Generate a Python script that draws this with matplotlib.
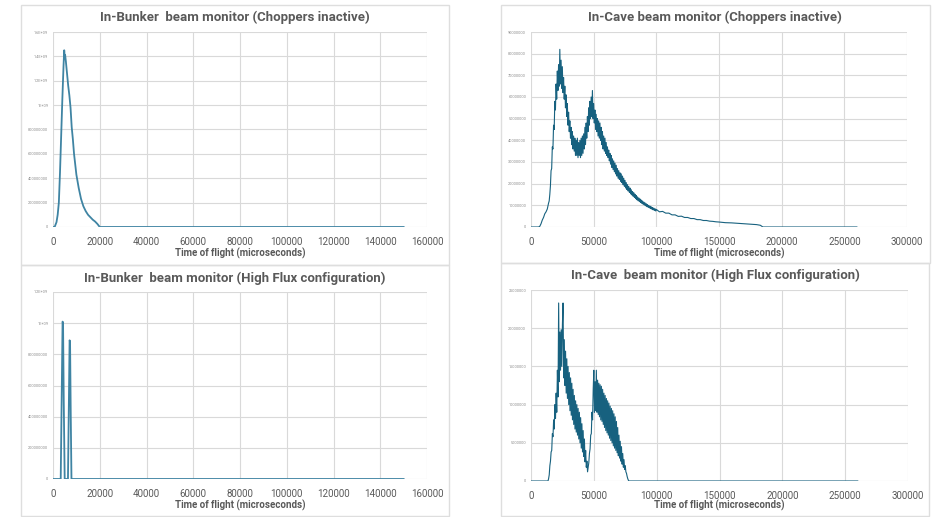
import matplotlib
matplotlib.use("Agg")
import matplotlib.pyplot as plt
from matplotlib.patches import Rectangle

# ---------------- data ----------------
# In-Bunker, choppers inactive (x in microseconds, counts in units of 1e8)
bunker_open_x = [0, 700, 1500, 2000, 2500, 3000, 3500, 4000, 4500, 4800, 5000, 5200,
                 5500, 6000, 6500, 7000, 7500, 8000, 8500, 9000, 10000, 11000, 12000,
                 13000, 14000, 15000, 16000, 17000, 18000, 19000, 20000, 150000]
bunker_open_y = [0, 0, 0.4, 1.0, 2.0, 4.5, 7.5, 10.5, 13.2, 14.5, 14.0, 14.1,
                 13.6, 12.6, 11.6, 10.8, 9.8, 8.2, 7.2, 6.0, 4.3, 3.2, 2.3,
                 1.7, 1.3, 1.0, 0.8, 0.6, 0.45, 0.25, 0, 0]

# In-Bunker, high flux configuration (counts in units of 1e8)
bunker_hf_x = [0, 3300, 3700, 4100, 4300, 4600, 5000, 6400, 6800, 7100, 7300, 7600, 7900, 150000]
bunker_hf_y = [0, 0, 5.0, 10.1, 10.0, 5.0, 0, 0, 5.0, 8.9, 8.8, 4.0, 0, 0]

# In-Cave, choppers inactive (x in thousands of microseconds, counts in millions)
cave_open_head_x = [0, 1, 2, 3, 4, 5, 6, 7, 8, 9, 10, 11, 12, 13]
cave_open_head_y = [0, 0, 0, 0, 0, 0, 0, 0.3, 1.5, 3.2, 4.4, 6.1, 7.0, 8.3]
# 14.0 .. 100.0 in steps of 0.5
cave_open_mid_y = [
    11, 12, 15, 19, 26, 27, 37, 36, 47, 45,
    58, 54, 66, 59, 72, 63, 75, 65, 82, 66,
    77, 64, 74, 62, 69, 59, 65, 55, 61, 51,
    57, 47, 53, 44, 49, 41, 46, 38, 44, 36,
    42, 35, 41, 33, 40, 33, 41, 32, 39, 33,
    40, 32, 41, 33, 42, 34, 43, 36, 46, 38,
    48, 41, 51, 44, 55, 47, 58, 50, 60, 51,
    63, 50, 57, 48, 54, 45, 52, 44, 50, 42,
    49, 41, 48, 40, 46, 38, 44, 36, 42, 35,
    41, 34, 39, 33, 37, 32, 35.5, 30.5, 34, 29,
    33, 27.5, 31.5, 26.5, 30.5, 25.5, 29.5, 24.5, 28.5, 23.5,
    27, 22.5, 26, 22, 25, 21, 24.5, 20.5, 23.5, 19.5,
    22.5, 18.8, 21.5, 18, 20.5, 17.3, 19.5, 16.6, 18.7, 16,
    18, 15.3, 17.2, 14.8, 16.4, 14.2, 15.8, 13.7, 15.1, 13.1,
    14.5, 12.6, 13.9, 12.1, 13.4, 11.7, 12.9, 11.3, 12.4, 10.9,
    12, 10.5, 11.5, 10.1, 11.1, 9.8, 10.7, 9.4, 10.3, 9.1,
    9.9, 8.8, 9.6, 8.5, 9.3, 8.2, 9.0, 7.9, 8.7, 7.7,
    8.4, 7.4, 8.1]
cave_open_tail_x = [102.5, 105, 107.5, 110, 112.5, 115, 117.5, 120, 122.5, 125, 127.5,
                    130, 132.5, 135, 137.5, 140, 142.5, 145, 147.5, 150, 155, 160, 165,
                    170, 175, 180, 183, 185, 260]
cave_open_tail_y = [7.0, 7.2, 6.4, 6.4, 5.6, 5.6, 4.9, 5.0, 4.4, 4.4, 3.9,
                    3.9, 3.4, 3.4, 3.0, 3.0, 2.7, 2.6, 2.4, 2.3, 2.0, 1.9, 1.7,
                    1.5, 1.3, 1.1, 0.8, 0, 0]

# In-Cave, high flux configuration (x in thousands of microseconds, counts in millions)
cave_hf_head_x = [0, 13.5]
cave_hf_head_y = [0, 0]
# 14.0 .. 78.0 in steps of 0.5
cave_hf_mid_y = [
    0.3, 0.8, 2.0, 2.6, 3.8, 4.0, 6.2, 5.8, 8.0, 6.8,
    10.0, 8.2, 11.5, 9.0, 14.5, 11.0, 23.3, 13.0, 19.5, 14.5,
    19.8, 15.0, 20.5, 23.3, 13.5, 18.5, 12.5, 17.0, 11.5, 16.0,
    10.8, 15.0, 10.0, 14.2, 9.2, 13.5, 8.6, 12.8, 8.0, 12.0,
    7.4, 11.2, 6.8, 10.5, 6.4, 10.0, 6.0, 9.5, 5.5, 9.0,
    5.0, 8.3, 4.3, 7.5, 3.8, 6.6, 3.2, 5.5, 2.5, 4.0,
    1.8, 2.6, 1.2, 1.8, 2.4, 3.6, 4.2, 6.0, 6.2, 9.0,
    8.0, 12.0, 14.5, 9.0, 13.0, 9.2, 14.5, 9.0, 13.2, 8.7,
    12.8, 8.4, 12.6, 8.0, 12.4, 7.8, 12.0, 7.4, 11.5, 7.0,
    11.2, 6.6, 10.8, 6.3, 10.5, 6.0, 10.2, 5.6, 9.8, 5.3,
    9.5, 5.0, 9.2, 4.6, 8.8, 4.3, 8.4, 4.0, 7.8, 3.7,
    7.0, 3.3, 6.0, 3.0, 5.2, 2.6, 4.5, 2.2, 3.6, 1.8,
    2.8, 1.5, 2.0, 1.2, 1.0, 0.6, 0.3, 0.1, 0]
cave_hf_tail_x = [260]
cave_hf_tail_y = [0]

# axis ticks / labels
bunker_xticks = [0, 20000, 40000, 60000, 80000, 100000, 120000, 140000, 160000]
cave_xticks = [0, 50000, 100000, 150000, 200000, 250000, 300000]
bunker_open_yticks = [0, 2e8, 4e8, 6e8, 8e8, 1e9, 1.2e9, 1.4e9, 1.6e9]
bunker_open_ylabels = ["0", "200000000", "400000000", "600000000", "800000000",
                       "1E+09", "1.2E+09", "1.4E+09", "1.6E+09"]
bunker_hf_yticks = [0, 2e8, 4e8, 6e8, 8e8, 1e9, 1.2e9]
bunker_hf_ylabels = ["0", "200000000", "400000000", "600000000", "800000000",
                     "1E+09", "1.2E+09"]
cave_open_yticks = [0, 1e7, 2e7, 3e7, 4e7, 5e7, 6e7, 7e7, 8e7, 9e7]
cave_open_ylabels = ["0", "10000000", "20000000", "30000000", "40000000", "50000000",
                     "60000000", "70000000", "80000000", "90000000"]
cave_hf_yticks = [0, 5e6, 1e7, 1.5e7, 2e7, 2.5e7]
cave_hf_ylabels = ["0", "5000000", "10000000", "15000000", "20000000", "25000000"]

titles = ["In-Bunker  beam monitor (Choppers inactive)",
          "In-Cave beam monitor (Choppers inactive)",
          "In-Bunker  beam monitor (High Flux configuration)",
          "In-Cave  beam monitor (High Flux configuration)"]
xlabel = "Time of flight (microseconds)"

# ---------------- assemble series ----------------
def half_steps(start, n):
    return [start + 0.5 * i for i in range(n)]

cave_open_x = cave_open_head_x + half_steps(14.0, len(cave_open_mid_y)) + cave_open_tail_x
cave_open_y = cave_open_head_y + cave_open_mid_y + cave_open_tail_y
cave_hf_x = cave_hf_head_x + half_steps(14.0, len(cave_hf_mid_y)) + cave_hf_tail_x
cave_hf_y = cave_hf_head_y + cave_hf_mid_y + cave_hf_tail_y

# ---------------- style ----------------
plt.rcParams['font.family'] = ['Roboto', 'DejaVu Sans']

W, H = 943, 517
fig = plt.figure(figsize=(W / 100, H / 100), dpi=100)
fig.patch.set_facecolor("white")

def fx(px):
    return px / W

def fy(py):
    return 1 - py / H

# panel borders (pixel boxes: left, top, right, bottom)
panels = [(20.5, 5, 449, 265), (500.5, 5, 930, 263), (20.5, 265, 449, 516), (500.5, 263, 929, 516)]
for (l, t, r, b) in panels:
    fig.patches.append(Rectangle((fx(l), fy(b)), fx(r) - fx(l), fy(t) - fy(b),
                                 transform=fig.transFigure, fill=False,
                                 edgecolor="#dedede", linewidth=1.0))

# axes boxes (left, top, right, bottom) in pixels
boxes = [(53, 32, 427, 227), (531, 32, 907, 227), (53, 292, 427, 479), (531, 290, 908, 481)]
title_pos = [(235, 17), (715, 17), (235, 278), (715, 275)]
xlabel_pos = [(240, 253), (719, 253), (240, 505), (719, 505)]

LINE = "#17617f"
GRID = "#d9d9d9"
TXT = "#595959"

series = [
    (bunker_open_x, [y * 1e8 for y in bunker_open_y], bunker_xticks,
     bunker_open_yticks, bunker_open_ylabels, 1.3, "#3f84a3"),
    ([x * 1000 for x in cave_open_x], [y * 1e6 for y in cave_open_y], cave_xticks,
     cave_open_yticks, cave_open_ylabels, 0.8, LINE),
    (bunker_hf_x, [y * 1e8 for y in bunker_hf_y], bunker_xticks,
     bunker_hf_yticks, bunker_hf_ylabels, 1.3, "#3f84a3"),
    ([x * 1000 for x in cave_hf_x], [y * 1e6 for y in cave_hf_y], cave_xticks,
     cave_hf_yticks, cave_hf_ylabels, 0.8, LINE),
]

for i, (xs, ys, xt, yt, yl, lw, col) in enumerate(series):
    l, t, r, b = boxes[i]
    ax = fig.add_axes([fx(l), fy(b), fx(r) - fx(l), fy(t) - fy(b)])
    ax.plot(xs, ys, color=col, linewidth=lw, zorder=3)
    ax.set_xlim(xt[0], xt[-1])
    ax.set_ylim(yt[0], yt[-1])
    ax.set_xticks(xt)
    ax.set_xticklabels([str(v) for v in xt])
    ax.set_yticks(yt)
    ax.set_yticklabels(yl)
    ax.grid(True, color=GRID, linewidth=0.8)
    ax.set_axisbelow(True)
    for s in ax.spines.values():
        s.set_visible(False)
    ax.tick_params(axis="x", length=0, labelsize=7, labelcolor=TXT, pad=7)
    ax.tick_params(axis="y", length=0, labelsize=2.8, labelcolor="#8c8c8c", pad=3.5)
    tx, ty = title_pos[i]
    fig.text(fx(tx), fy(ty), titles[i], ha="center", va="center", fontsize=9.5,
             fontweight="bold", color=TXT)
    lx, ly = xlabel_pos[i]
    fig.text(fx(lx), fy(ly), xlabel, ha="center", va="center", fontsize=7,
             fontweight="bold", color=TXT)

fig.savefig("out.png", dpi=100, facecolor="white")
